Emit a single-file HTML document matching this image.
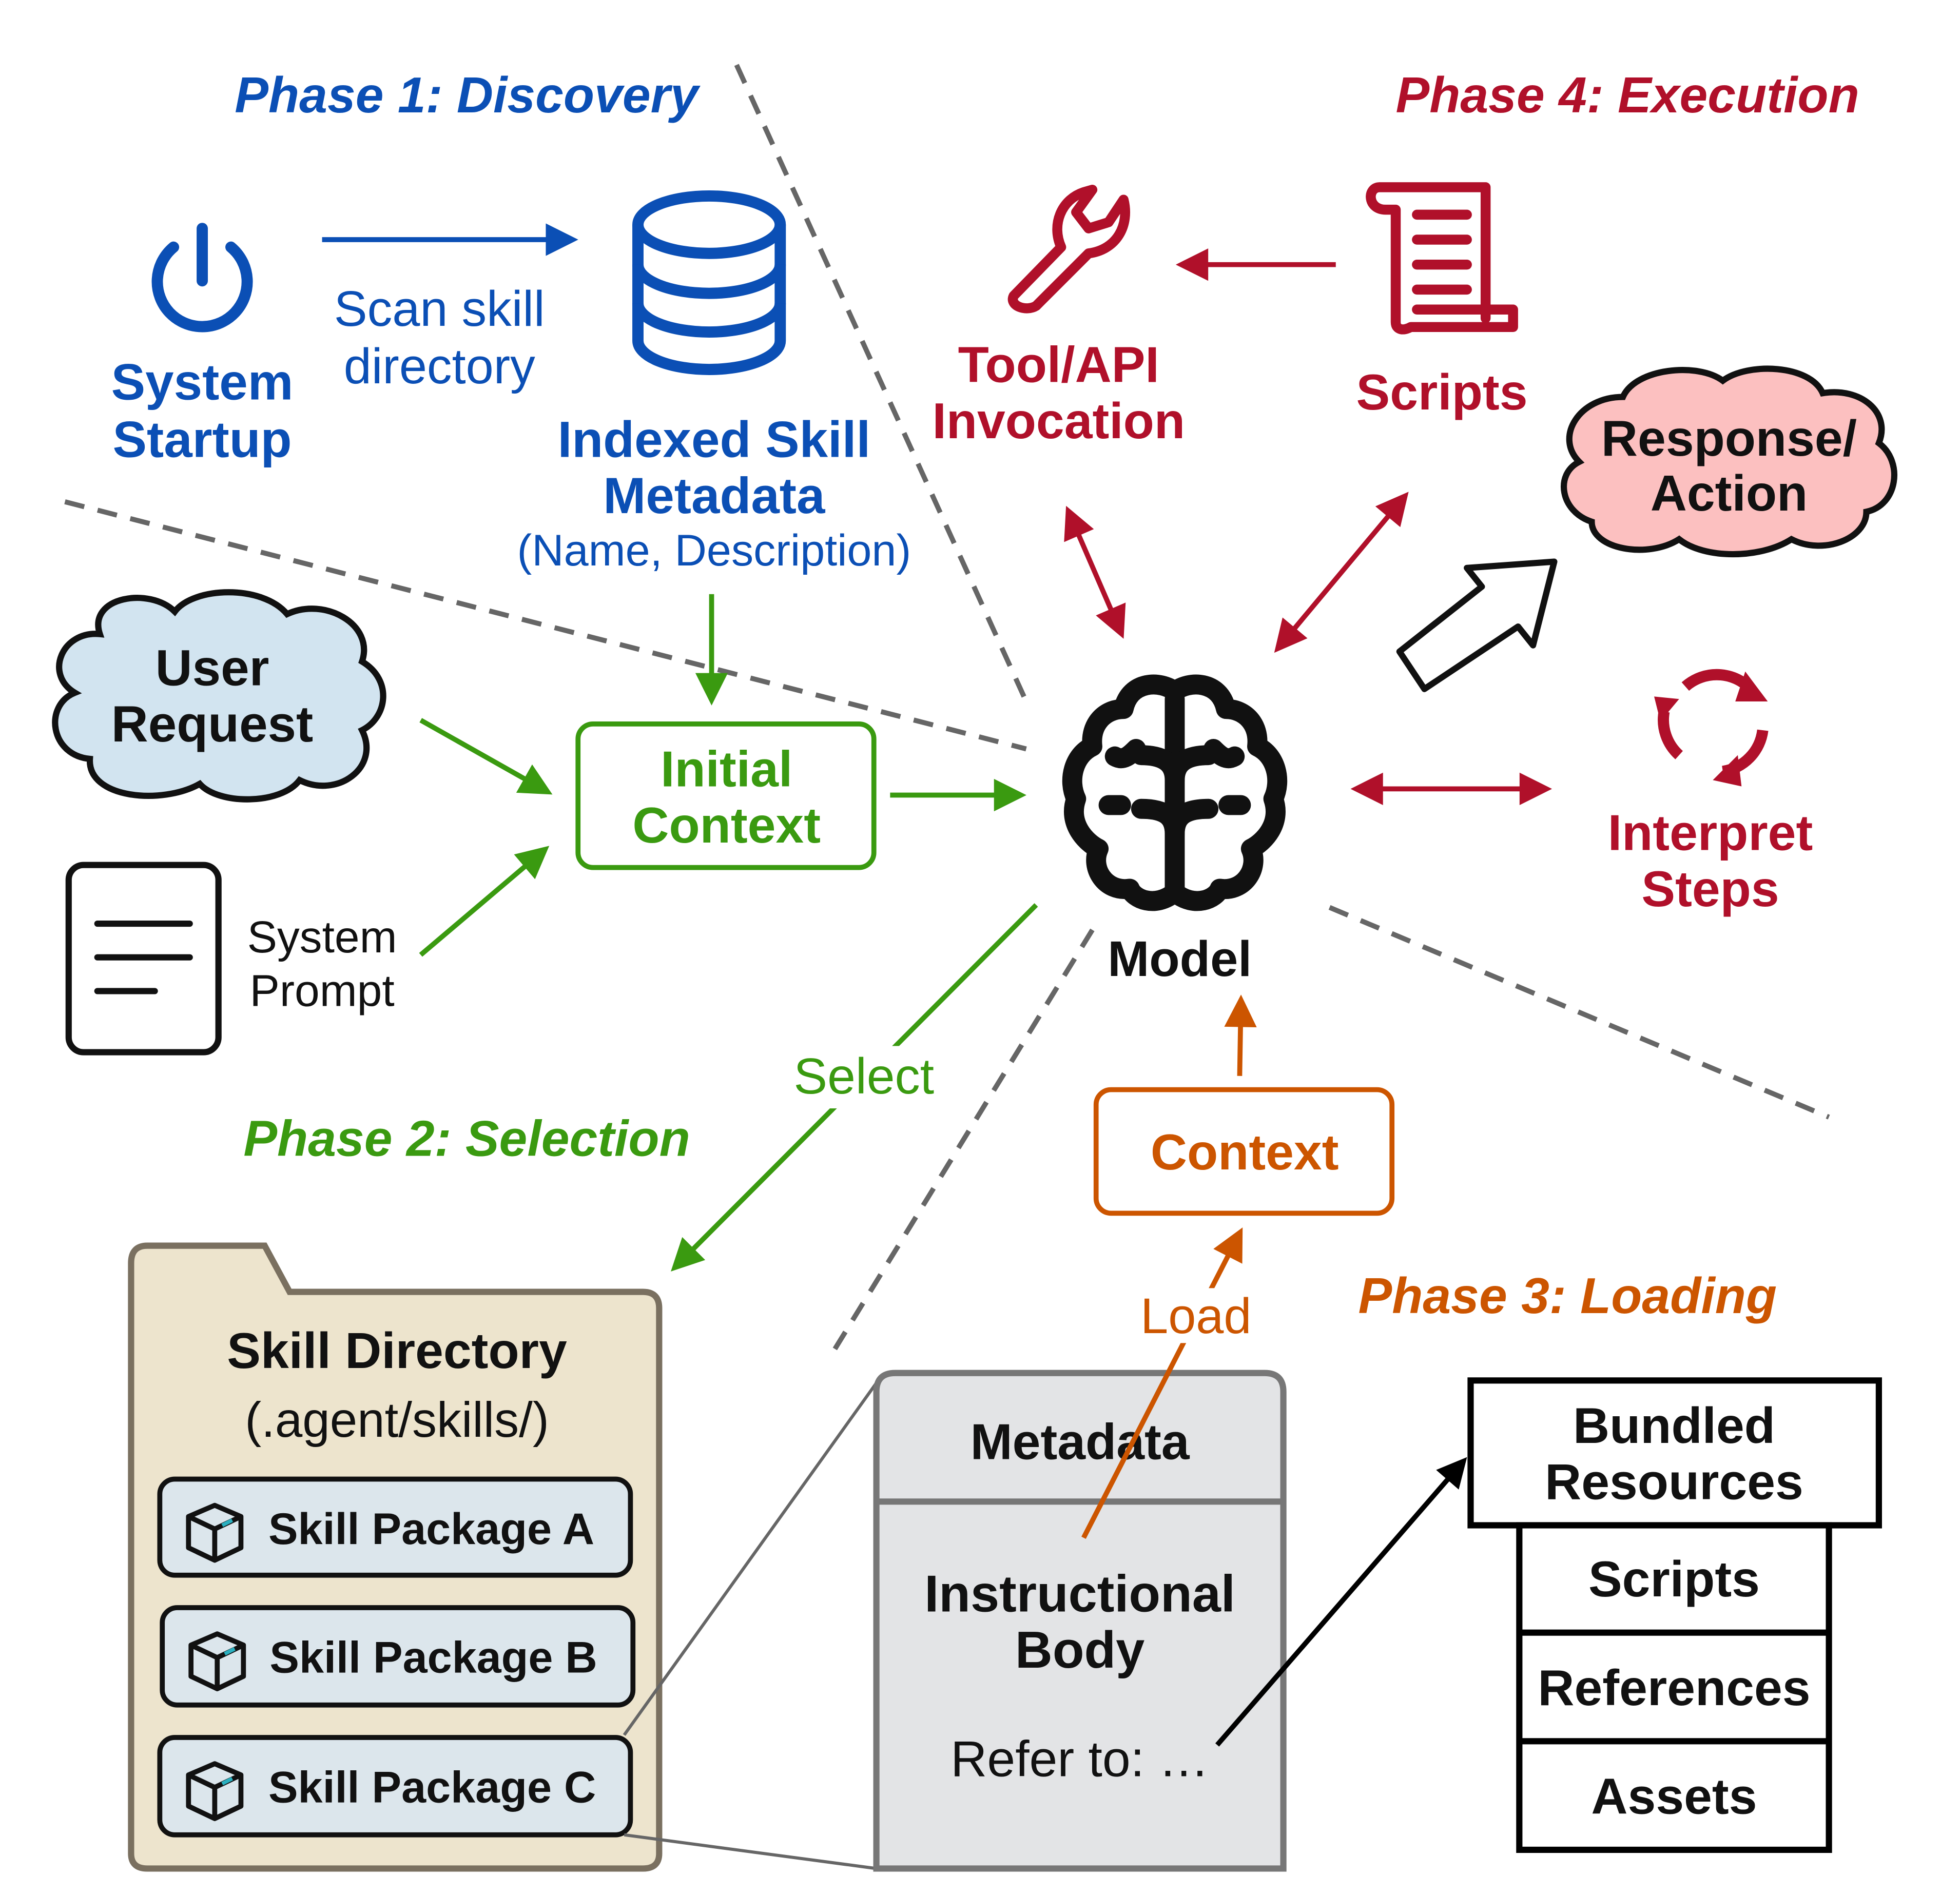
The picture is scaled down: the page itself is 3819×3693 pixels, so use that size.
<!DOCTYPE html>
<html><head><meta charset="utf-8"><style>
html,body{margin:0;padding:0;background:#fff}
svg{display:block}
text{font-family:"Liberation Sans",Arial,sans-serif}
</style></head><body>
<svg width="3819" height="3693" viewBox="0 0 1570 1518.2" xmlns="http://www.w3.org/2000/svg">
<defs>
<marker id="ag" viewBox="0 0 10 10" refX="8" refY="5" markerWidth="34" markerHeight="26" orient="auto" markerUnits="userSpaceOnUse"><path d="M0,0 L10,5 L0,10 z" fill="#3a9a10"/></marker>
<marker id="ar" viewBox="0 0 10 10" refX="8" refY="5" markerWidth="34" markerHeight="26" orient="auto-start-reverse" markerUnits="userSpaceOnUse"><path d="M0,0 L10,5 L0,10 z" fill="#b0102a"/></marker>
<marker id="ao" viewBox="0 0 10 10" refX="8" refY="5" markerWidth="30" markerHeight="26" orient="auto" markerUnits="userSpaceOnUse"><path d="M0,0 L10,5 L0,10 z" fill="#cc5500"/></marker>
<marker id="ak" viewBox="0 0 10 10" refX="8" refY="5" markerWidth="28" markerHeight="24" orient="auto" markerUnits="userSpaceOnUse"><path d="M0,0 L10,5 L0,10 z" fill="#000"/></marker>
<marker id="abl" viewBox="0 0 10 10" refX="8" refY="5" markerWidth="36" markerHeight="26" orient="auto" markerUnits="userSpaceOnUse"><path d="M0,0 L10,5 L0,10 z" fill="#0b4fb5"/></marker>
</defs>

<g stroke="#666" stroke-width="4" stroke-dasharray="16,11" fill="none">
<line x1="590" y1="52" x2="822" y2="562"/>
<line x1="52" y1="402" x2="822" y2="600"/>
<line x1="1065" y1="727" x2="1465" y2="895"/>
<line x1="875" y1="745" x2="668" y2="1082"/>
</g>

<g font-weight="bold" font-style="italic" font-size="40.5">
<text x="188" y="90" fill="#0b4fb5">Phase 1: Discovery</text>
<text x="1118" y="90" fill="#b0102a">Phase 4: Execution</text>
<text x="195" y="926" fill="#3a9a10">Phase 2: Selection</text>
<text x="1088" y="1052" fill="#cc5500">Phase 3: Loading</text>
</g>

<g stroke="#0b4fb5" stroke-width="9" fill="none" stroke-linecap="round">
<path d="M139,198 A36,36 0 1 0 185,198"/>
<line x1="162" y1="183" x2="162" y2="225"/>
</g>
<line x1="258" y1="192" x2="458" y2="192" stroke="#0b4fb5" stroke-width="4" marker-end="url(#abl)"/>
<g fill="#0b4fb5" text-anchor="middle">
<text x="352" y="261" font-size="40">Scan skill</text>
<text x="352" y="307" font-size="40">directory</text>
<text x="162" y="320" font-size="41" font-weight="bold">System</text>
<text x="162" y="366" font-size="41" font-weight="bold">Startup</text>
<text x="572" y="366" font-size="41" font-weight="bold">Indexed Skill</text>
<text x="572" y="411" font-size="41" font-weight="bold">Metadata</text>
<text x="572" y="453" font-size="35.5">(Name, Description)</text>
</g>
<g stroke="#0b4fb5" stroke-width="9" fill="none">
<ellipse cx="568" cy="180" rx="57" ry="23"/>
<path d="M511,180 V273 A57,23 0 0 0 625,273 V180"/>
<path d="M511,212 A57,23 0 0 0 625,212"/>
<path d="M511,243 A57,23 0 0 0 625,243"/>
</g>

<line x1="570" y1="476" x2="570" y2="560" stroke="#3a9a10" stroke-width="4" marker-end="url(#ag)"/>
<path d="M80,508 C70,478 120,470 140,490 C155,470 210,468 230,492 C260,478 300,500 290,530 C315,545 310,575 290,585 C305,615 270,640 240,625 C225,645 175,645 160,628 C130,645 70,640 72,608 C40,605 35,565 60,555 C35,540 50,505 80,508 Z" fill="#d2e4f0" stroke="#111" stroke-width="5"/>
<text x="170" y="549" font-size="41" font-weight="bold" text-anchor="middle" fill="#111">User</text>
<text x="170" y="594" font-size="41" font-weight="bold" text-anchor="middle" fill="#111">Request</text>
<rect x="55" y="693" width="120" height="150" rx="12" fill="#fff" stroke="#111" stroke-width="5"/>
<g stroke="#111" stroke-width="5" stroke-linecap="round">
<line x1="78" y1="740" x2="152" y2="740"/><line x1="78" y1="767" x2="152" y2="767"/><line x1="78" y1="794" x2="124" y2="794"/>
</g>
<text x="258" y="763" font-size="36" text-anchor="middle" fill="#111">System</text>
<text x="258" y="806" font-size="36" text-anchor="middle" fill="#111">Prompt</text>
<line x1="337" y1="577" x2="438" y2="634" stroke="#3a9a10" stroke-width="4" marker-end="url(#ag)"/>
<line x1="337" y1="765" x2="436" y2="681" stroke="#3a9a10" stroke-width="4" marker-end="url(#ag)"/>
<rect x="463" y="580" width="237" height="115" rx="12" fill="#fff" stroke="#3a9a10" stroke-width="4"/>
<text x="582" y="630" font-size="40.5" font-weight="bold" text-anchor="middle" fill="#3a9a10">Initial</text>
<text x="582" y="675" font-size="40.5" font-weight="bold" text-anchor="middle" fill="#3a9a10">Context</text>
<line x1="713" y1="637" x2="817" y2="637" stroke="#3a9a10" stroke-width="4" marker-end="url(#ag)"/>
<line x1="830" y1="725" x2="541" y2="1015" stroke="#3a9a10" stroke-width="4" marker-end="url(#ag)"/>
<rect x="630" y="838" width="124" height="50" fill="#fff"/>
<text x="692" y="876" font-size="40.5" text-anchor="middle" fill="#3a9a10">Select</text>

<g stroke="#111" stroke-width="16" fill="none" stroke-linecap="round" stroke-linejoin="round">
<path d="M941,554 C930,545 905,545 900,568 C885,568 873,580 875,598 C860,605 855,625 862,640 C855,660 870,675 880,680 C873,695 885,715 905,712 C908,720 925,728 941,715 C957,728 974,720 977,712 C997,715 1009,695 1002,680 C1012,675 1027,660 1020,640 C1027,625 1022,605 1007,598 C1009,580 997,568 982,568 C977,545 952,545 941,554 Z"/>
<line x1="941" y1="560" x2="941" y2="712"/>
<path d="M914,605 C930,605 941,610 941,625 M968,605 C952,605 941,610 941,625"/>
<path d="M914,648 C930,648 941,652 941,668 M968,648 C952,648 941,652 941,668"/>
<path d="M893,606 C900,610 905,605 910,600 M989,606 C982,610 977,605 972,600"/>
<path d="M888,645 L898,645 M994,645 L984,645"/>
</g>
<text x="945" y="782" font-size="40" font-weight="bold" text-anchor="middle" fill="#111">Model</text>

<g stroke="#b0102a" stroke-width="8" fill="none" stroke-linecap="round" stroke-linejoin="round">
<path d="M812,237 L850,198 C842,180 850,160 868,154 L875,152 L862,170 L872,183 L888,178 L900,160 C905,180 895,200 872,203 L830,245 C822,250 808,245 812,237 Z"/>
<path d="M1105,150 H1190 V255 M1105,150 C1095,150 1095,168 1110,168 H1118 V258 C1118,265 1125,265 1130,262 H1212 V248 H1135"/>
<line x1="1135" y1="172" x2="1175" y2="172"/><line x1="1135" y1="192" x2="1175" y2="192"/><line x1="1135" y1="212" x2="1175" y2="212"/><line x1="1135" y1="232" x2="1175" y2="232"/>
</g>
<line x1="1070" y1="212" x2="947" y2="212" stroke="#b0102a" stroke-width="4" marker-end="url(#ar)"/>
<g fill="#b0102a" font-weight="bold" font-size="40.5" text-anchor="middle">
<text x="848" y="306">Tool/API</text>
<text x="848" y="351">Invocation</text>
<text x="1155" y="328">Scripts</text>
<text x="1370" y="681">Interpret</text>
<text x="1370" y="726">Steps</text>
</g>
<path d="M1300,318 C1310,295 1360,290 1380,305 C1400,290 1450,292 1460,315 C1490,310 1515,330 1505,355 C1525,370 1520,405 1495,410 C1495,432 1460,445 1435,432 C1410,448 1365,448 1345,432 C1320,448 1275,440 1275,418 C1250,410 1245,380 1265,370 C1245,350 1265,318 1300,318 Z" fill="#fcc0c0" stroke="#111" stroke-width="5"/>
<text x="1385" y="365" font-size="40.5" font-weight="bold" text-anchor="middle" fill="#111">Response/</text>
<text x="1385" y="409" font-size="40.5" font-weight="bold" text-anchor="middle" fill="#111">Action</text>
<g stroke="#b0102a" stroke-width="4">
<line x1="856" y1="410" x2="898" y2="507" marker-start="url(#ar)" marker-end="url(#ar)"/>
<line x1="1125" y1="398" x2="1024" y2="519" marker-start="url(#ar)" marker-end="url(#ar)"/>
<line x1="1087" y1="632" x2="1238" y2="632" marker-start="url(#ar)" marker-end="url(#ar)"/>
</g>
<path d="M1121,522 L1187,470 L1175,455 L1245,450 L1228,517 L1216,502 L1141,552 Z" fill="#fff" stroke="#111" stroke-width="5" stroke-linejoin="round"/>
<g stroke="#b0102a" stroke-width="9" fill="none">
<path d="M1350,550 A38,38 0 0 1 1405,555"/>
<path d="M1412,585 A38,38 0 0 1 1380,618"/>
<path d="M1345,605 A38,38 0 0 1 1333,570"/>
</g>
<g fill="#b0102a">
<path d="M1398,538 L1416,562 L1390,562 Z"/>
<path d="M1372,625 L1392,605 L1395,630 Z"/>
<path d="M1325,558 L1345,560 L1330,578 Z"/>
</g>

<line x1="993" y1="862" x2="994" y2="802" stroke="#cc5500" stroke-width="4" marker-end="url(#ao)"/>
<rect x="878" y="873" width="237" height="99" rx="12" fill="#fff" stroke="#cc5500" stroke-width="4"/>
<text x="997" y="937" font-size="40.5" font-weight="bold" text-anchor="middle" fill="#cc5500">Context</text>

<path d="M105,1012 Q105,998 118,998 H212 L232,1035 H515 Q528,1035 528,1048 V1485 Q528,1497 515,1497 H118 Q105,1497 105,1485 Z" fill="#ede4cd" stroke="#7a7060" stroke-width="5"/>
<text x="318" y="1096" font-size="40.5" font-weight="bold" text-anchor="middle" fill="#111">Skill Directory</text>
<text x="318" y="1151" font-size="39.5" text-anchor="middle" fill="#111">(.agent/skills/)</text>
<g stroke="#111" stroke-width="4" fill="#dce6ec">
<rect x="128" y="1185" width="377" height="77" rx="12"/>
<rect x="130" y="1288" width="377" height="78" rx="12"/>
<rect x="128" y="1392" width="377" height="78" rx="12"/>
</g>
<g font-size="35.5" font-weight="bold" fill="#111">
<text x="215" y="1237">Skill Package A</text>
<text x="216" y="1340">Skill Package B</text>
<text x="215" y="1444">Skill Package C</text>
</g>
<g stroke="#111" stroke-width="4" fill="none" stroke-linejoin="round">
<path d="M172,1206 L193,1215 V1240 L172,1250 L151,1240 V1215 Z M151,1215 L172,1225 L193,1215 M172,1225 V1250"/>
<path d="M174,1309 L195,1318 V1343 L174,1353 L153,1343 V1318 Z M153,1318 L174,1328 L195,1318 M174,1328 V1353"/>
<path d="M172,1413 L193,1422 V1447 L172,1457 L151,1447 V1422 Z M151,1422 L172,1432 L193,1422 M172,1432 V1457"/>
</g>
<g stroke="#2ab0c0" stroke-width="3"><line x1="178" y1="1222" x2="186" y2="1218"/><line x1="180" y1="1325" x2="188" y2="1321"/><line x1="178" y1="1429" x2="186" y2="1425"/></g>

<line x1="500" y1="1390" x2="702" y2="1108" stroke="#666" stroke-width="2.5"/>
<line x1="500" y1="1470" x2="702" y2="1497" stroke="#666" stroke-width="2.5"/>
<path d="M702,1115 Q702,1100 717,1100 H1013 Q1028,1100 1028,1115 V1497 H702 Z" fill="#e3e4e6" stroke="#777" stroke-width="5"/>
<line x1="702" y1="1203" x2="1028" y2="1203" stroke="#777" stroke-width="5"/>
<g fill="#111" text-anchor="middle">
<text x="865" y="1169" font-size="40.5" font-weight="bold">Metadata</text>
<text x="865" y="1291" font-size="41.5" font-weight="bold">Instructional</text>
<text x="865" y="1336" font-size="41.5" font-weight="bold">Body</text>
<text x="865" y="1423" font-size="40.5">Refer to: …</text>
</g>
<line x1="868" y1="1232" x2="993" y2="988" stroke="#cc5500" stroke-width="4" marker-end="url(#ao)"/>
<rect x="910" y="1032" width="98" height="44" fill="#fff"/>
<text x="958" y="1068" font-size="40" text-anchor="middle" fill="#cc5500">Load</text>
<line x1="975" y1="1398" x2="1172" y2="1171" stroke="#000" stroke-width="4" marker-end="url(#ak)"/>

<g stroke="#000" stroke-width="5" fill="#fff">
<rect x="1178" y="1106" width="327" height="116"/>
<rect x="1217" y="1222" width="248" height="260"/>
<line x1="1217" y1="1308" x2="1465" y2="1308"/>
<line x1="1217" y1="1395" x2="1465" y2="1395"/>
</g>
<g fill="#111" font-weight="bold" font-size="40.5" text-anchor="middle">
<text x="1341" y="1156">Bundled</text>
<text x="1341" y="1201">Resources</text>
<text x="1341" y="1279">Scripts</text>
<text x="1341" y="1366">References</text>
<text x="1341" y="1453">Assets</text>
</g>
</svg>
</body></html>
